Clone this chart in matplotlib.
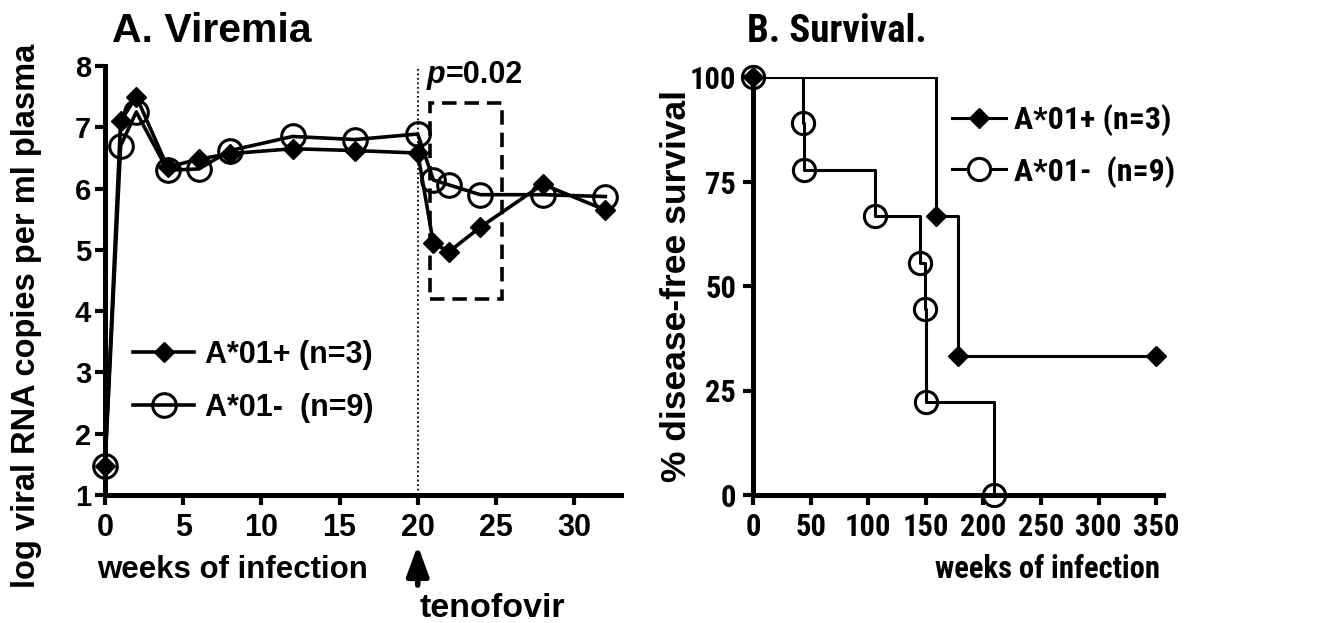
import matplotlib
matplotlib.use("Agg")
import matplotlib.pyplot as plt
import matplotlib.patches as patches
from matplotlib import font_manager as fm

# ---- data: panel A, viremia ----
weeks = [0, 1, 2, 4, 6, 8, 12, 16, 20, 21, 22, 24, 28, 32]
vl_pos = [1.47, 7.10, 7.50, 6.35, 6.48, 6.57, 6.65, 6.62, 6.58, 5.11, 4.97, 5.37, 6.07, 5.65]
vl_neg = [1.47, 6.70, 7.25, 6.30, 6.32, 6.62, 6.85, 6.80, 6.89, 6.14, 6.06, 5.90, 5.90, 5.87]

# ---- data: panel B, survival ----
t_pos = [0, 159, 178, 350]
s_pos = [100, 66.7, 33.3, 33.3]
t_neg = [0, 43, 44, 106, 145, 149.5, 150, 209]
s_neg = [100, 88.9, 77.8, 66.7, 55.6, 44.4, 22.2, 0]

lab_pos = "A*01+ (n=3)"
lab_neg = "A*01-  (n=9)"

# narrow bold face for panel B (the original is squeezed sideways)
base = "Liberation Sans"
narrow = base
cands = ["Liberation Sans Narrow", "Arial Narrow", "Archivo Narrow", "Roboto Condensed",
         "PT Sans Narrow", "Asap Condensed", "Encode Sans Condensed",
         "Barlow Semi Condensed", "Sofia Sans Condensed", "Barlow Condensed"]
bold_names = {f.name for f in fm.fontManager.ttflist
              if f.weight in (700, "bold") and f.style == "normal"}
for cand in cands:
    if cand in bold_names:
        narrow = cand
        break

plt.rcParams["font.family"] = [base, "DejaVu Sans"]
plt.rcParams["font.weight"] = "bold"
plt.rcParams["axes.labelweight"] = "bold"
NF = [narrow, "DejaVu Sans"]

W, H = 1322, 623
fig = plt.figure(figsize=(W / 100, H / 100), dpi=100)

def px(x0, y0, x1, y1):
    return [x0 / W, 1 - y1 / H, (x1 - x0) / W, (y1 - y0) / H]

def style_axes(ax):
    for s in ["top", "right"]:
        ax.spines[s].set_visible(False)
    for s in ["left", "bottom"]:
        ax.spines[s].set_linewidth(3.6)
    ax.tick_params(direction="out", length=7, width=3)

# ================= panel A =================
ax = fig.add_axes(px(105, 66, 621, 495))
style_axes(ax)
ax.set_xlim(0, 33)
ax.set_ylim(1, 8)
ax.set_xticks(range(0, 31, 5))
ax.set_yticks(range(1, 9))
ax.tick_params(axis="x", labelsize=22, pad=6)
ax.tick_params(axis="y", labelsize=21, pad=3)

ax.vlines(20, 1, 8, colors="k", linestyles=(0, (1, 1.5)), lw=1.3)
ax.add_patch(patches.Rectangle((20.8, 4.2), 4.6, 3.2, fill=False, lw=2.6,
                               linestyle=(0, (4, 2.2)), ec="k"))

ax.plot(weeks, vl_pos, "-", color="k", lw=2.6, marker="D", ms=10,
        mfc="k", mec="k", clip_on=False, zorder=3, label=lab_pos)
ax.plot(weeks, vl_neg, "-", color="k", lw=2.6, marker="o", ms=17,
        mfc="none", mec="k", mew=2.2, clip_on=False, zorder=4, label=lab_neg)

tp = ax.text(20.6, 7.72, "p", style="italic", fontsize=22, va="baseline")
ax.annotate("=0.02", xy=(1, 0), xycoords=tp, va="bottom", fontsize=22)

ax.annotate("", xy=(20, 0.18), xytext=(20, -0.47), xycoords="data",
            annotation_clip=False,
            arrowprops=dict(arrowstyle="-|>,head_length=0.6,head_width=0.22",
                            mutation_scale=30, lw=4, color="k",
                            shrinkA=0, shrinkB=0))
fig.text(420 / W, 1 - 617 / H, "tenofovir", fontsize=24.5, va="baseline")

ax.set_ylabel("log viral RNA copies per ml plasma", fontsize=23.5)
ax.yaxis.set_label_coords(-0.122, 0.417)
fig.text(97 / W, 1 - 578 / H, "weeks of infection", fontsize=22.5, va="baseline")
fig.text(112 / W, 1 - 42 / H, "A. Viremia", fontsize=29.5, va="baseline")

ax.legend(loc="center left", bbox_to_anchor=(133 / W, 1 - 381.5 / H),
          bbox_transform=fig.transFigure, frameon=False, fontsize=22,
          handlelength=2.0, handletextpad=0.35, labelspacing=0.75,
          borderpad=0, borderaxespad=0)

# ================= panel B =================
bx = fig.add_axes(px(753, 77, 1163, 495))
style_axes(bx)
bx.set_xlim(0, 356)
bx.set_ylim(0, 100)
bx.set_xticks(range(0, 351, 50))
bx.set_yticks([0, 25, 50, 75, 100])
bx.tick_params(labelsize=22, pad=5)
for lab in bx.get_xticklabels() + bx.get_yticklabels():
    lab.set_family(NF)

bx.step(t_pos, s_pos, where="post", color="k", lw=2.2, zorder=3)
bx.plot(t_pos, s_pos, ls="none", marker="D", ms=10, mfc="k", mec="k",
        clip_on=False, zorder=4)
bx.step(t_neg, s_neg, where="post", color="k", lw=2.2, zorder=3)
bx.plot(t_neg, s_neg, ls="none", marker="o", ms=16, mfc="none", mec="k",
        mew=2.2, clip_on=False, zorder=4)

h_pos = plt.Line2D([], [], color="k", lw=2.2, marker="D", ms=10)
h_neg = plt.Line2D([], [], color="k", lw=2.2, marker="o", ms=16, mfc="white", mew=2.2)
bx.legend([h_pos, h_neg], [lab_pos, lab_neg], loc="center left",
          bbox_to_anchor=(952 / W, 1 - 146 / H), bbox_transform=fig.transFigure,
          frameon=False, prop=dict(family=NF, weight="bold", size=23),
          handlelength=1.7, handletextpad=0.25, labelspacing=0.6,
          borderpad=0, borderaxespad=0)

bx.set_ylabel("% disease-free survival", fontsize=25.5)
bx.yaxis.set_label_coords(-0.146, 0.5)
fig.text(1160 / W, 1 - 578 / H, "weeks of infection", fontsize=22, ha="right",
         va="baseline", family=NF)
fig.text(747 / W, 1 - 42 / H, "B. Survival.", fontsize=28, va="baseline",
         family=NF)

fig.savefig("out.png", dpi=100)
